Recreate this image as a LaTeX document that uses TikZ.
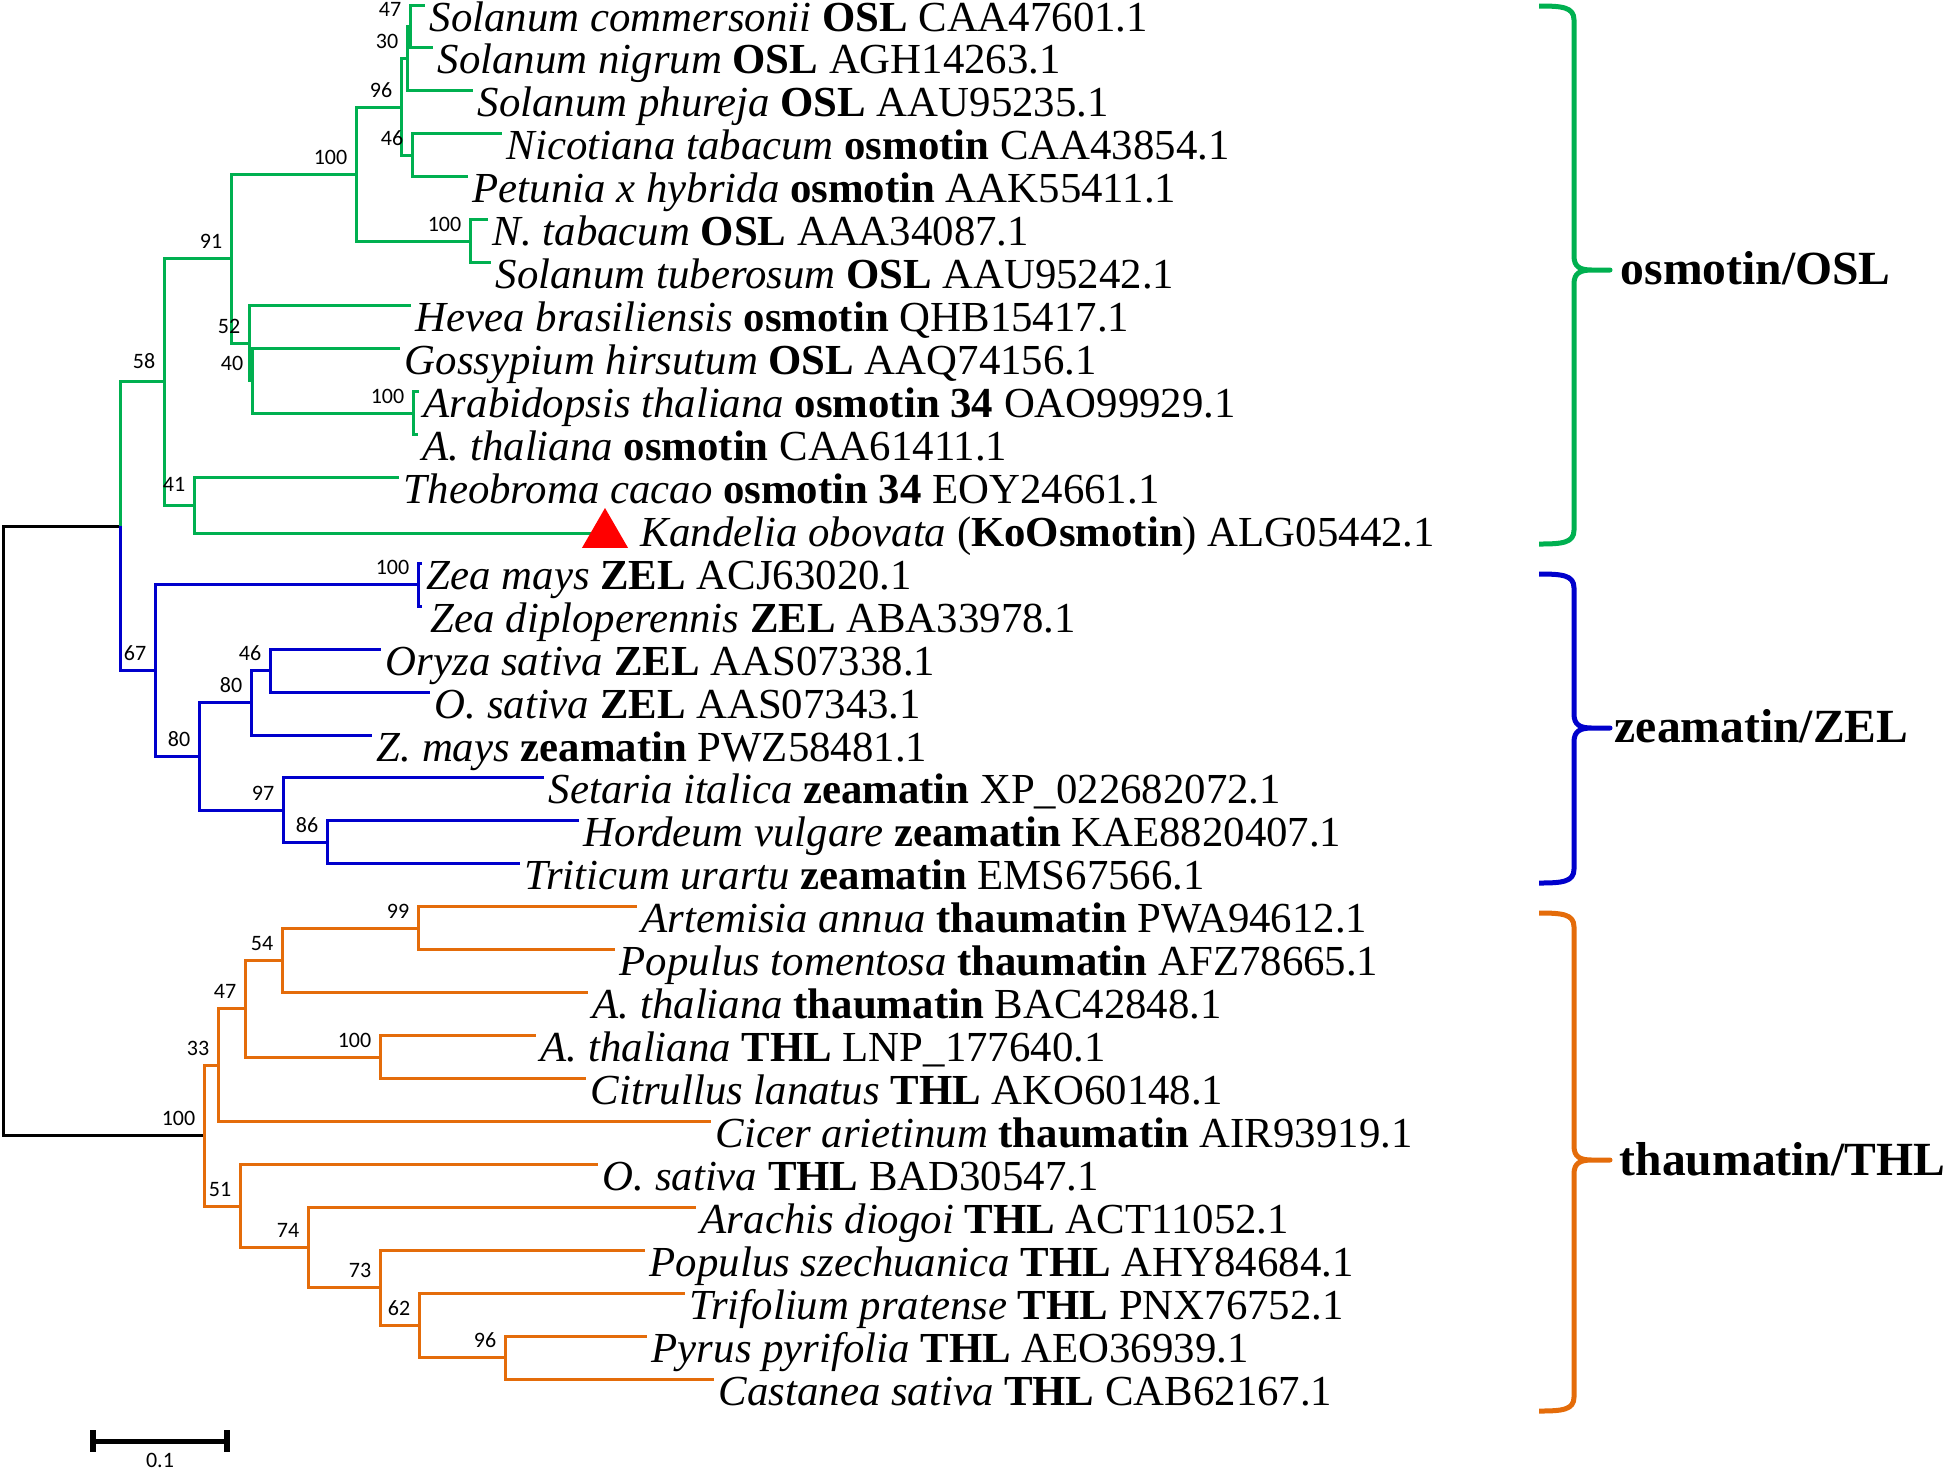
\documentclass[tikz,border=0pt]{standalone}
\usepackage{fontspec}
\setmainfont{Liberation Serif}
\newfontfamily\bootfont{Carlito}
\usetikzlibrary{shapes.geometric,calc}
\definecolor{oslgreen}{RGB}{0,176,80}
\definecolor{zelblue}{RGB}{0,0,204}
\definecolor{thlorange}{RGB}{228,108,10}
\tikzstyle{branch} = [line width=0.75pt]
\tikzstyle{taxon} = [anchor=base west, inner sep=0pt, font=\fontsize{10.7}{12}\selectfont]
\tikzstyle{boot} = [anchor=base east, inner sep=0pt, font=\bootfont\fontsize{5.5}{6}\selectfont]
\tikzstyle{cladelabel} = [anchor=base west, inner sep=0pt, font=\bfseries\fontsize{11.9}{14}\selectfont]
\tikzstyle{brace} = [line width=1.25pt, line join=round]
\tikzstyle{marker} = [regular polygon, regular polygon sides=3, fill=red, inner sep=0pt, minimum size=13.3pt]
% colour, top, bottom, tip
\newcommand{\cladebrace}[4]{%
  \draw[brace,#1] (1539,#2) .. controls (1562,#2) and (1574,{#2+1}) .. (1574,{#2+14})
    -- (1574,{#4-14}) .. controls (1574,{#4-3}) and (1580,#4) .. (1592,#4) -- (1610,#4)
    -- (1592,#4) .. controls (1580,#4) and (1574,{#4+3}) .. (1574,{#4+14})
    -- (1574,{#3-14}) .. controls (1574,{#3-1}) and (1562,#3) .. (1539,#3);}

\begin{document}
\begin{tikzpicture}[x=0.25pt,y=-0.25pt]
\useasboundingbox (0,0) rectangle (1946,1469);

% leaves
\coordinate (l1) at (425,5);
\coordinate (l2) at (433,47.9);
\coordinate (l3) at (473,90.9);
\coordinate (l4) at (502,133.8);
\coordinate (l5) at (468,176.8);
\coordinate (l6) at (488,219.7);
\coordinate (l7) at (491,262.6);
\coordinate (l8) at (411,305.6);
\coordinate (l9) at (400,348.5);
\coordinate (l10) at (419,391.5);
\coordinate (l11) at (418,434.4);
\coordinate (l12) at (399,477.3);
\coordinate (l13) at (600,533);
\coordinate (l14) at (422,563.2);
\coordinate (l15) at (422,606.2);
\coordinate (l16) at (381,649.1);
\coordinate (l17) at (430,692);
\coordinate (l18) at (372,735);
\coordinate (l19) at (544,777.9);
\coordinate (l20) at (579,820.9);
\coordinate (l21) at (520,863.8);
\coordinate (l22) at (637,906.7);
\coordinate (l23) at (615,949.7);
\coordinate (l24) at (588,992.6);
\coordinate (l25) at (536,1035.6);
\coordinate (l26) at (586,1078.5);
\coordinate (l27) at (711,1121.4);
\coordinate (l28) at (598,1164.4);
\coordinate (l29) at (696,1207.3);
\coordinate (l30) at (645,1250.3);
\coordinate (l31) at (685,1293.2);
\coordinate (l32) at (647,1336.2);
\coordinate (l33) at (714,1379.1);

% inner nodes
\coordinate (n47) at (410,26.5);
\coordinate (n30) at (407,58.7);
\coordinate (n46) at (412,155.3);
\coordinate (n96) at (401,107);
\coordinate (nNt) at (470,241.2);
\coordinate (nE) at (356,174.1);
\coordinate (nAt) at (413,413);
\coordinate (n40) at (252,380.7);
\coordinate (n52) at (249,343.2);
\coordinate (n91) at (231,258.6);
\coordinate (n41) at (194,505.2);
\coordinate (n58) at (164,381.9);
\coordinate (nA) at (120,526.2);
\coordinate (nZea) at (418,584.7);
\coordinate (n46b) at (270,670.5);
\coordinate (n80a) at (251,702.8);
\coordinate (n86) at (327,842.3);
\coordinate (n97) at (283,810.1);
\coordinate (n80b) at (199,756.4);
\coordinate (n67) at (155,670.6);
\coordinate (n99) at (418,928.2);
\coordinate (n54) at (282,960.4);
\coordinate (n100t) at (380,1057);
\coordinate (n47t) at (245,1008.7);
\coordinate (n33) at (218,1065);
\coordinate (n96t) at (505,1357.6);
\coordinate (n62) at (419,1325.4);
\coordinate (n73) at (380,1287.8);
\coordinate (n74) at (308,1247.6);
\coordinate (n51) at (240,1206);
\coordinate (nT) at (204,1135.5);
\coordinate (root) at (3,830.9);

% branches
\draw[branch] (root) |- (nA) (root) |- (nT);
\draw[branch,oslgreen] (nA) |- (n58)
  (n58) |- (n91) (n58) |- (n41)
  (n91) |- (nE) (n91) |- (n52)
  (nE) |- (n96) (nE) |- (nNt)
  (n96) |- (n30) (n96) |- (n46)
  (n30) |- (n47) (n30) |- (l3)
  (n47) |- (l1) (n47) |- (l2)
  (n46) |- (l4) (n46) |- (l5)
  (nNt) |- (l6) (nNt) |- (l7)
  (n52) |- (l8) (n52) |- (n40)
  (n40) |- (l9) (n40) |- (nAt)
  (nAt) |- (l10) (nAt) |- (l11)
  (n41) |- (l12) (n41) |- (l13);
\draw[branch,zelblue] (nA) |- (n67)
  (n67) |- (nZea) (n67) |- (n80b)
  (nZea) |- (l14) (nZea) |- (l15)
  (n80b) |- (n80a) (n80b) |- (n97)
  (n80a) |- (n46b) (n80a) |- (l18)
  (n46b) |- (l16) (n46b) |- (l17)
  (n97) |- (l19) (n97) |- (n86)
  (n86) |- (l20) (n86) |- (l21);
\draw[branch,thlorange] (nT) |- (n33) (nT) |- (n51)
  (n33) |- (n47t) (n33) |- (l27)
  (n47t) |- (n54) (n47t) |- (n100t)
  (n54) |- (n99) (n54) |- (l24)
  (n99) |- (l22) (n99) |- (l23)
  (n100t) |- (l25) (n100t) |- (l26)
  (n51) |- (l28) (n51) |- (n74)
  (n74) |- (l29) (n74) |- (n73)
  (n73) |- (l30) (n73) |- (n62)
  (n62) |- (l31) (n62) |- (n96t)
  (n96t) |- (l32) (n96t) |- (l33);
\node[marker] (ko) at (605,534.6) {};

% bootstrap values
\node[boot] (b47) at ($(n47)+(-8,-10)$) {47};
\node[boot] (b30) at ($(n30)+(-8,-10)$) {30};
\node[boot] (b96) at ($(n96)+(-8,-10)$) {96};
\node[boot] (b46) at ($(n46)+(-8,-10)$) {46};
\node[boot] (bNt) at ($(nNt)+(-8,-10)$) {100};
\node[boot] (bE) at ($(nE)+(-8,-10)$) {100};
\node[boot] (bAt) at ($(nAt)+(-8,-10)$) {100};
\node[boot] (b40) at ($(n40)+(-8,-10)$) {40};
\node[boot] (b52) at ($(n52)+(-8,-10)$) {52};
\node[boot] (b91) at ($(n91)+(-8,-10)$) {91};
\node[boot] (b41) at ($(n41)+(-8,-14)$) {41};
\node[boot] (b58) at ($(n58)+(-8,-13)$) {58};
\node[boot] (bZea) at ($(nZea)+(-8,-10)$) {100};
\node[boot] (b46b) at ($(n46b)+(-8,-10)$) {46};
\node[boot] (b80a) at ($(n80a)+(-8,-10)$) {80};
\node[boot] (b86) at ($(n86)+(-8,-10)$) {86};
\node[boot] (b97) at ($(n97)+(-8,-10)$) {97};
\node[boot] (b80b) at ($(n80b)+(-8,-10)$) {80};
\node[boot] (b67) at ($(n67)+(-8,-10)$) {67};
\node[boot] (b99) at ($(n99)+(-8,-10)$) {99};
\node[boot] (b54) at ($(n54)+(-8,-10)$) {54};
\node[boot] (b100t) at ($(n100t)+(-8,-10)$) {100};
\node[boot] (b47t) at ($(n47t)+(-8,-10)$) {47};
\node[boot] (b33) at ($(n33)+(-8,-10)$) {33};
\node[boot] (b96t) at ($(n96t)+(-8,-10)$) {96};
\node[boot] (b62) at ($(n62)+(-8,-10)$) {62};
\node[boot] (b73) at ($(n73)+(-8,-10)$) {73};
\node[boot] (b74) at ($(n74)+(-8,-10)$) {74};
\node[boot] (b51) at ($(n51)+(-8,-10)$) {51};
\node[boot] (bT) at ($(nT)+(-8,-10)$) {100};

% taxa
\node[taxon] (t1) at ($(l1)+(4,26)$) {\textit{Solanum commersonii} \textbf{OSL} CAA47601.1};
\node[taxon] (t2) at ($(l2)+(4,26)$) {\textit{Solanum nigrum} \textbf{OSL} AGH14263.1};
\node[taxon] (t3) at ($(l3)+(4,26)$) {\textit{Solanum phureja} \textbf{OSL} AAU95235.1};
\node[taxon] (t4) at ($(l4)+(4,26)$) {\textit{Nicotiana tabacum} \textbf{osmotin} CAA43854.1};
\node[taxon] (t5) at ($(l5)+(4,26)$) {\textit{Petunia x hybrida} \textbf{osmotin} AAK55411.1};
\node[taxon] (t6) at ($(l6)+(4,26)$) {\textit{N. tabacum} \textbf{OSL} AAA34087.1};
\node[taxon] (t7) at ($(l7)+(4,26)$) {\textit{Solanum tuberosum} \textbf{OSL} AAU95242.1};
\node[taxon] (t8) at ($(l8)+(4,26)$) {\textit{Hevea brasiliensis} \textbf{osmotin} QHB15417.1};
\node[taxon] (t9) at ($(l9)+(4,26)$) {\textit{Gossypium hirsutum} \textbf{OSL} AAQ74156.1};
\node[taxon] (t10) at ($(l10)+(4,26)$) {\textit{Arabidopsis thaliana} \textbf{osmotin 34} OAO99929.1};
\node[taxon] (t11) at ($(l11)+(4,26)$) {\textit{A. thaliana} \textbf{osmotin} CAA61411.1};
\node[taxon] (t12) at ($(l12)+(4,26)$) {\textit{Theobroma cacao} \textbf{osmotin 34} EOY24661.1};
\node[taxon] (t13) at (640,546) {\textit{Kandelia obovata} (\textbf{KoOsmotin}) ALG05442.1};
\node[taxon] (t14) at ($(l14)+(4,26)$) {\textit{Zea mays} \textbf{ZEL} ACJ63020.1};
\node[taxon] (t15) at ($(l15)+(8,26)$) {\textit{Zea diploperennis} \textbf{ZEL} ABA33978.1};
\node[taxon] (t16) at ($(l16)+(4,26)$) {\textit{Oryza sativa} \textbf{ZEL} AAS07338.1};
\node[taxon] (t17) at ($(l17)+(4,26)$) {\textit{O. sativa} \textbf{ZEL} AAS07343.1};
\node[taxon] (t18) at ($(l18)+(4,26)$) {\textit{Z. mays} \textbf{zeamatin} PWZ58481.1};
\node[taxon] (t19) at ($(l19)+(4,26)$) {\textit{Setaria italica} \textbf{zeamatin} XP\_022682072.1};
\node[taxon] (t20) at ($(l20)+(4,26)$) {\textit{Hordeum vulgare} \textbf{zeamatin} KAE8820407.1};
\node[taxon] (t21) at ($(l21)+(4,26)$) {\textit{Triticum urartu} \textbf{zeamatin} EMS67566.1};
\node[taxon] (t22) at ($(l22)+(4,26)$) {\textit{Artemisia annua} \textbf{thaumatin} PWA94612.1};
\node[taxon] (t23) at ($(l23)+(4,26)$) {\textit{Populus tomentosa} \textbf{thaumatin} AFZ78665.1};
\node[taxon] (t24) at ($(l24)+(4,26)$) {\textit{A. thaliana} \textbf{thaumatin} BAC42848.1};
\node[taxon] (t25) at ($(l25)+(4,26)$) {\textit{A. thaliana} \textbf{THL} LNP\_177640.1};
\node[taxon] (t26) at ($(l26)+(4,26)$) {\textit{Citrullus lanatus} \textbf{THL} AKO60148.1};
\node[taxon] (t27) at ($(l27)+(4,26)$) {\textit{Cicer arietinum} \textbf{thaumatin} AIR93919.1};
\node[taxon] (t28) at ($(l28)+(4,26)$) {\textit{O. sativa} \textbf{THL} BAD30547.1};
\node[taxon] (t29) at ($(l29)+(4,26)$) {\textit{Arachis diogoi} \textbf{THL} ACT11052.1};
\node[taxon] (t30) at ($(l30)+(4,26)$) {\textit{Populus szechuanica} \textbf{THL} AHY84684.1};
\node[taxon] (t31) at ($(l31)+(4,26)$) {\textit{Trifolium pratense} \textbf{THL} PNX76752.1};
\node[taxon] (t32) at ($(l32)+(4,26)$) {\textit{Pyrus pyrifolia} \textbf{THL} AEO36939.1};
\node[taxon] (t33) at ($(l33)+(4,26)$) {\textit{Castanea sativa} \textbf{THL} CAB62167.1};

% clade braces
\cladebrace{oslgreen}{6}{544}{270}
\cladebrace{zelblue}{574}{883}{728}
\cladebrace{thlorange}{913}{1411}{1160}
\node[cladelabel] (cOSL) at (1620,284) {osmotin/OSL};
\node[cladelabel] (cZEL) at (1614,742) {zeamatin/ZEL};
\node[cladelabel] (cTHL) at (1619,1175) {thaumatin/THL};

% scale bar
\coordinate (sbL) at (93,1441);
\coordinate (sbR) at (227,1441);
\draw[line width=1.25pt] (sbL) -- (sbR);
\draw[line width=1.5pt] ($(sbL)+(0,-11)$) -- ($(sbL)+(0,11)$);
\draw[line width=1.5pt] ($(sbR)+(0,-11)$) -- ($(sbR)+(0,11)$);
\node[boot, anchor=base] (sbText) at (160,1467) {0.1};
\end{tikzpicture}
\end{document}
